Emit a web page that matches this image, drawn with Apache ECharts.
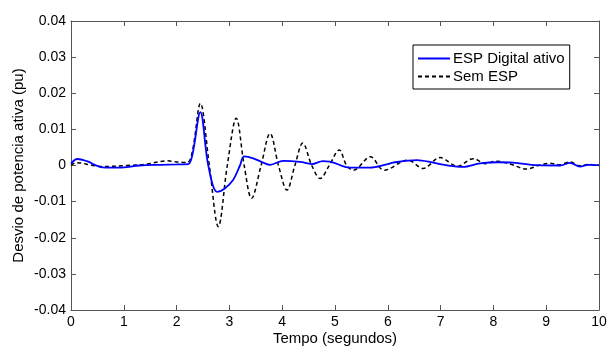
<!DOCTYPE html>
<html>
<head>
<meta charset="utf-8">
<script src="https://cdn.jsdelivr.net/npm/echarts@6/dist/echarts.min.js"></script>
<style>
html,body{margin:0;padding:0;background:#fff;}
#c{width:609px;height:347px;}
</style>
</head>
<body>
<div id="c"></div>
<script>
var xTicks = [0,1,2,3,4,5,6,7,8,9,10];
var yTicks = [-0.04,-0.03,-0.02,-0.01,0,0.01,0.02,0.03,0.04];

var espTime = [0,0.12,0.3,0.6,0.9,1.3,1.7,2.0,2.22,2.3,2.45,2.6,2.77,2.9,3.07,3.2,3.28,3.45,3.64,3.77,4.02,4.34,4.56,4.77,4.9,5.28,5.66,5.98,6.1,6.55,6.86,7.1,7.42,7.75,8.1,8.37,8.83,9.26,9.45,9.64,9.8,10];
var espValue = [0.0005,0.0018,0.0012,-0.0005,-0.0006,0,0.0002,0.0003,0.0004,0.003,0.0148,0,-0.0073,-0.0065,-0.004,0,0.0025,0.002,0.0008,0.0002,0.0013,0.001,0.0004,0.0012,0.0011,-0.0006,-0.0006,0.0003,0.0008,0.0015,0.0008,0.0001,-0.0004,0.0006,0.0009,0.0008,0.0001,0,0.0007,-0.0003,0.0002,0.0001];

var semTime = [0,0.1,0.42,0.6,1.06,1.44,1.82,2.0,2.2,2.3,2.45,2.62,2.79,2.96,3.13,3.28,3.42,3.6,3.77,3.93,4.09,4.24,4.39,4.56,4.72,4.89,5.08,5.22,5.35,5.67,5.93,6.38,6.67,6.99,7.32,7.62,7.85,8.05,8.3,8.63,8.85,9.07,9.25,9.45,9.64,9.8,10];
var semValue = [0,0.0008,0,-0.0003,0,0.0004,0.0013,0.001,0.0008,0.004,0.0172,0,-0.0169,0,0.0131,0,-0.0091,0,0.0089,0,-0.0068,0,0.0062,0,-0.0036,0,0.0043,0,-0.0013,0.0024,-0.0013,0.0015,-0.0008,0.0022,-0.0002,0.0019,0.0005,0.0012,0.0005,-0.001,0,0.0006,0.0002,0.001,-0.0001,0.0003,0];

function pairs(t, v){ return t.map(function(x,i){ return [x, v[i]]; }); }

var font = '"Liberation Sans", Arial, sans-serif';
var axisCol = '#555';

var chart = echarts.init(document.getElementById('c'), null, {renderer:'canvas'});
chart.setOption({
  animation:false,
  backgroundColor:'#fff',
  grid:{left:71,right:10,top:21,bottom:37,containLabel:false,outerBoundsMode:'none'},
  legend:{
    orient:'vertical', left:413, top:45, align:'left',
    backgroundColor:'#fff', borderColor:'#000', borderWidth:1,
    padding:[6,5,5,5], itemGap:3, itemWidth:32, itemHeight:2,
    textStyle:{fontFamily:font,fontSize:15,color:'#000',padding:[0,0,0,-2]},
    data:[
      {name:'ESP Digital ativo', icon:'rect', itemStyle:{color:'#0000ff'}},
      {name:'Sem ESP', icon:'path://M0,0h4v2h-4z M7,0h4v2h-4z M14,0h4v2h-4z M21,0h4v2h-4z M28,0h4v2h-4z', itemStyle:{color:'#000'}}
    ]
  },
  xAxis:[{
    type:'value', min:xTicks[0], max:xTicks[xTicks.length-1], interval:1,
    name:'Tempo (segundos)', nameLocation:'middle', nameGap:21, nameMoveOverlap:false,
    nameTextStyle:{fontFamily:font,fontSize:15,color:'#000'},
    axisLine:{onZero:false,lineStyle:{color:axisCol,width:1}},
    axisTick:{inside:true,length:5,lineStyle:{color:axisCol}},
    axisLabel:{fontFamily:font,fontSize:14,color:'#000',margin:5},
    splitLine:{show:false}
  },{
    type:'value', position:'top', min:0, max:10, interval:1,
    axisLine:{show:true,onZero:false,lineStyle:{color:axisCol,width:1}},
    axisTick:{inside:true,length:5,lineStyle:{color:axisCol}},
    axisLabel:{show:false}, splitLine:{show:false}
  }],
  yAxis:[{
    type:'value', min:yTicks[0], max:yTicks[yTicks.length-1], interval:0.01,
    name:'Desvio de potencia ativa (pu)', nameLocation:'middle', nameGap:45, nameMoveOverlap:false,
    nameTextStyle:{fontFamily:font,fontSize:15,color:'#000'},
    axisLine:{show:true,onZero:false,lineStyle:{color:axisCol,width:1}},
    axisTick:{show:true,inside:true,length:5,lineStyle:{color:axisCol}},
    axisLabel:{fontFamily:font,fontSize:14,color:'#000',margin:5,
      formatter:function(v){ return String(Number(v.toFixed(2))); }},
    splitLine:{show:false}
  },{
    type:'value', position:'right', min:-0.04, max:0.04, interval:0.01,
    axisLine:{show:true,onZero:false,lineStyle:{color:axisCol,width:1}},
    axisTick:{show:true,inside:true,length:5,lineStyle:{color:axisCol}},
    axisLabel:{show:false}, splitLine:{show:false}
  }],
  series:[{
    name:'ESP Digital ativo', type:'line', data:pairs(espTime, espValue),
    showSymbol:false, symbol:'none', smooth:0.35, z:3,
    lineStyle:{color:'#0000ff',width:1.8}, itemStyle:{color:'#0000ff'}
  },{
    name:'Sem ESP', type:'line', data:pairs(semTime, semValue),
    showSymbol:false, symbol:'none', smooth:0.35, z:2,
    lineStyle:{color:'#000',width:1.5,type:[4,3]}, itemStyle:{color:'#000'}
  }]
});
</script>
</body>
</html>
